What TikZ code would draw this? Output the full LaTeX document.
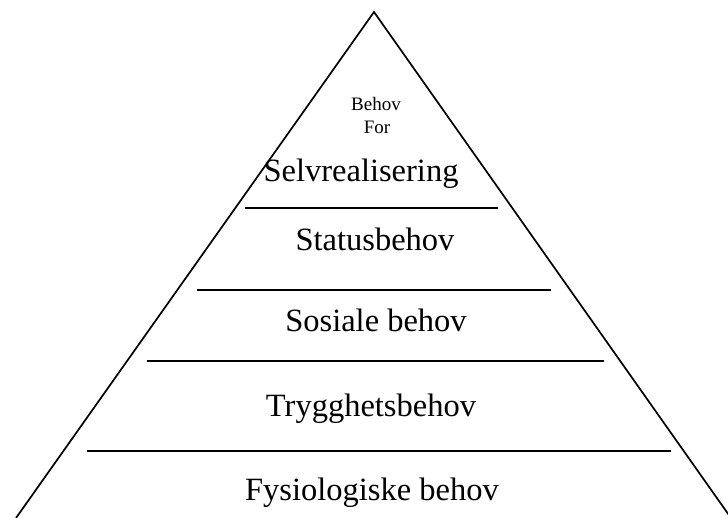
\documentclass[tikz,border=0pt]{standalone}
\usepackage{fontspec}
\setmainfont{Liberation Serif}
\begin{document}
\begin{tikzpicture}[x=1pt,y=-1pt,
  edge/.style={line width=1.7pt,black},
  big/.style={anchor=base,inner sep=0pt,font=\fontsize{32.5}{32.5}\selectfont},
  small/.style={anchor=base,inner sep=0pt,font=\fontsize{19}{19}\selectfont}]
\useasboundingbox (0,0) rectangle (728,518);
\coordinate (apex) at (374,12);
\coordinate (bl) at (16,518);
\coordinate (br) at (731,518);
\draw[edge,line join=miter] (bl) -- (apex) -- (br);
\coordinate (l1a) at (245,208); \coordinate (l1b) at (498,208);
\coordinate (l2a) at (197,290); \coordinate (l2b) at (551,290);
\coordinate (l3a) at (147,361); \coordinate (l3b) at (604,361);
\coordinate (l4a) at (87,451);  \coordinate (l4b) at (671,451);
\draw[edge] (l1a) -- (l1b);
\draw[edge] (l2a) -- (l2b);
\draw[edge] (l3a) -- (l3b);
\draw[edge] (l4a) -- (l4b);
\node[small] (t1) at (376,111) {Behov};
\node[small] (t2) at (377,134) {For};
\node[big] (t3) at (361,182) {Selvrealisering};
\node[big] (t4) at (375,251) {Statusbehov};
\node[big] (t5) at (376,332) {Sosiale behov};
\node[big] (t6) at (371,416) {Trygghetsbehov};
\node[big] (t7) at (372,500) {Fysiologiske behov};
\end{tikzpicture}
\end{document}
